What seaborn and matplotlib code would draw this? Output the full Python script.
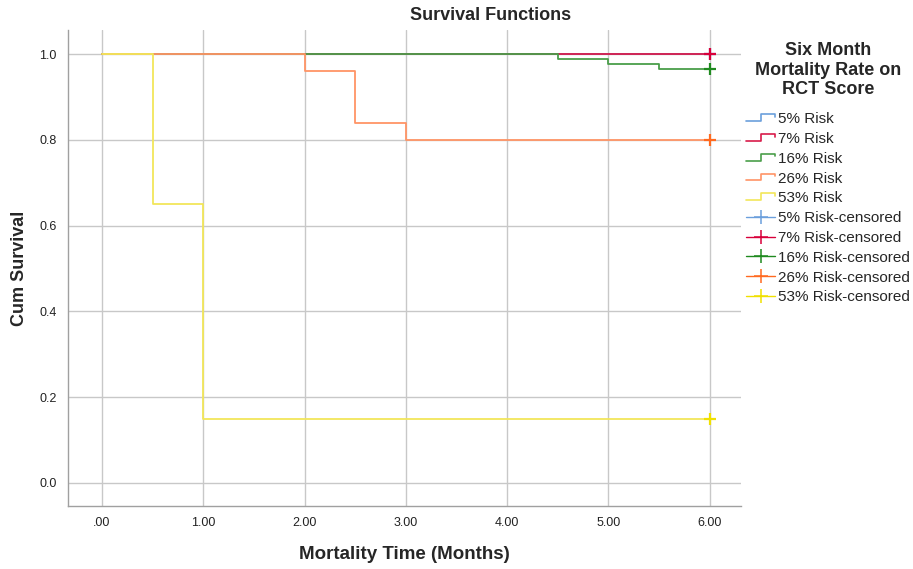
import numpy as np
import pandas as pd
import matplotlib
matplotlib.use("Agg")
import matplotlib.pyplot as plt
from matplotlib.lines import Line2D
from matplotlib.legend_handler import HandlerBase
import seaborn as sns

# ---- data ----
groups = ["5% Risk", "7% Risk", "16% Risk", "26% Risk", "53% Risk"]
times_5 = [0.0, 6.0]
surv_5 = [1.0, 1.0]
times_7 = [0.0, 6.0]
surv_7 = [1.0, 1.0]
times_16 = [0.0, 4.5, 5.0, 5.5, 6.0]
surv_16 = [1.0, 0.988, 0.976, 0.964, 0.964]
times_26 = [0.0, 2.0, 2.5, 3.0, 6.0]
surv_26 = [1.0, 0.96, 0.84, 0.80, 0.80]
times_53 = [0.0, 0.5, 1.0, 6.0]
surv_53 = [1.0, 0.65, 0.15, 0.15]
censor_time = [6.0, 6.0, 6.0, 6.0, 6.0]
censor_surv = [1.0, 1.0, 0.964, 0.80, 0.15]

x_ticks = [0, 1, 2, 3, 4, 5, 6]
x_ticklabels = [".00", "1.00", "2.00", "3.00", "4.00", "5.00", "6.00"]
y_ticks = [0.0, 0.2, 0.4, 0.6, 0.8, 1.0]
y_ticklabels = ["0.0", "0.2", "0.4", "0.6", "0.8", "1.0"]

line_colors = ["#6b9fdc", "#d81b4a", "#4a9e4a", "#ff9466", "#f2e65a"]
cens_colors = ["#6b9fdc", "#d8003a", "#1f8a1f", "#ff6a20", "#f0e000"]

all_times = [times_5, times_7, times_16, times_26, times_53]
all_surv = [surv_5, surv_7, surv_16, surv_26, surv_53]
rows = []
for g, t, s in zip(groups, all_times, all_surv):
    for ti, si in zip(t, s):
        rows.append({"time": ti, "surv": si, "group": g})
df = pd.DataFrame(rows)
cens_df = pd.DataFrame({"time": censor_time, "surv": censor_surv, "group": groups})

sns.set_style("white")
plt.rcParams["font.family"] = ["Liberation Sans", "DejaVu Sans"]

fig = plt.figure(figsize=(9.13, 5.69), dpi=100)
ax = fig.add_axes([68 / 913, 1 - 506 / 569, (741 - 68) / 913, (506 - 30) / 569])

for g, lc in zip(groups, line_colors):
    sub = df[df["group"] == g]
    sns.lineplot(data=sub, x="time", y="surv", ax=ax, color=lc, lw=1.3,
                 drawstyle="steps-post", estimator=None, sort=False, legend=False)

for i, g in enumerate(groups):
    sub = cens_df[cens_df["group"] == g]
    sns.scatterplot(data=sub, x="time", y="surv", ax=ax, marker="+", s=80,
                    color=cens_colors[i], linewidth=1.6, legend=False, zorder=5)

ax.set_xlim(-0.336, 6.31)
ax.set_ylim(-0.054, 1.056)
ax.set_xticks(x_ticks)
ax.set_xticklabels(x_ticklabels)
ax.set_yticks(y_ticks)
ax.set_yticklabels(y_ticklabels)
ax.grid(True, color="#c8c8c8", lw=1.0)
ax.set_axisbelow(True)
for side in ["top", "right"]:
    ax.spines[side].set_visible(False)
for side in ["left", "bottom"]:
    ax.spines[side].set_color("#a0a0a0")
    ax.spines[side].set_linewidth(1.0)
ax.tick_params(axis="both", length=0, labelsize=9, colors="#222222")
ax.tick_params(axis="x", pad=8)
ax.tick_params(axis="y", pad=8)

ax.set_xlabel("Mortality Time (Months)", fontsize=13.5, fontweight="bold", labelpad=12)
ax.set_ylabel("Cum Survival", fontsize=13, fontweight="bold", labelpad=8)
fig.text(491 / 913, 1 - 16 / 569, "Survival Functions", ha="center", va="center",
         fontsize=13, fontweight="bold")


class StepHandler(HandlerBase):
    def create_artists(self, legend, orig_handle, xdescent, ydescent, width, height,
                       fontsize, trans):
        xs = np.array([0.0, 0.5, 0.5, 1.0, 1.0]) * width - xdescent
        ys = np.array([0.2, 0.2, 0.85, 0.85, 0.6]) * height - ydescent
        ln = Line2D(xs, ys, color=orig_handle.get_color(), lw=1.2)
        ln.set_transform(trans)
        return [ln]


step_handles = []
handles = []
labels = []
for g, lc in zip(groups, line_colors):
    h = Line2D([0], [0], color=lc, lw=1.2)
    step_handles.append(h)
    handles.append(h)
    labels.append(g)
for g, cc in zip(groups, cens_colors):
    handles.append(Line2D([0], [0], color=cc, lw=1.0, marker="+", markersize=10,
                          markeredgewidth=1.1))
    labels.append(g + "-censored")
leg = ax.legend(handles, labels, loc="upper left", bbox_to_anchor=(740 / 913, 1 - 36 / 569),
                bbox_transform=fig.transFigure, frameon=False, fontsize=11,
                title="Six Month\nMortality Rate on\nRCT Score",
                title_fontproperties={"weight": "bold", "size": 13},
                handlelength=1.9, handletextpad=0.2, labelspacing=0.38, borderaxespad=0,
                handler_map={h: StepHandler() for h in step_handles})
leg._legend_box.align = "center"
leg._legend_box.sep = 10
leg.get_title().set_multialignment("center")

fig.savefig("out.png", dpi=100)
